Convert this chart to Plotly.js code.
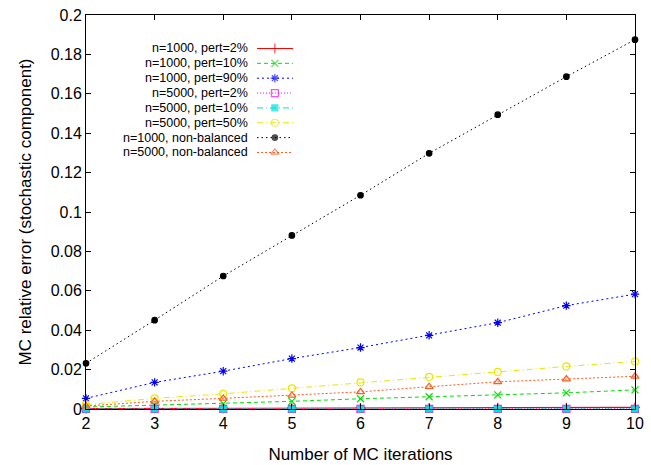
<!DOCTYPE html>
<html>
<head>
<meta charset="utf-8">
<script src="https://cdn.plot.ly/plotly-3.0.1.min.js"></script>
<style>html,body{margin:0;padding:0;background:#fff;}#chart{width:651px;height:465px;}</style>
</head>
<body>
<div id="chart"></div>
<script>
// ---- data ----
var iterations = [2, 3, 4, 5, 6, 7, 8, 9, 10];
var seriesNames = [
  "n=1000, pert=2%",
  "n=1000, pert=10%",
  "n=1000, pert=90%",
  "n=5000, pert=2%",
  "n=5000, pert=10%",
  "n=5000, pert=50%",
  "n=1000, non-balanced",
  "n=5000, non-balanced"
];
var n1000_pert2   = [0.0002, 0.0003, 0.0003, 0.0004, 0.0005, 0.0006, 0.0007, 0.0007, 0.0008];
var n1000_pert10  = [0.0010, 0.0020, 0.0027, 0.0039, 0.0052, 0.0062, 0.0072, 0.0082, 0.0097];
var n1000_pert90  = [0.0054, 0.0135, 0.0192, 0.0256, 0.0312, 0.0374, 0.0438, 0.0525, 0.0583];
var n5000_pert2   = [0.0001, 0.0001, 0.0001, 0.0001, 0.0001, 0.0001, 0.0001, 0.0001, 0.0001];
var n5000_pert10  = [0.0000, 0.0000, 0.0000, 0.0000, 0.0000, 0.0000, 0.0000, 0.0000, 0.0000];
var n5000_pert50  = [0.0022, 0.0054, 0.0077, 0.0105, 0.0135, 0.0163, 0.0188, 0.0216, 0.0241];
var n1000_nonbal  = [0.0232, 0.0451, 0.0675, 0.0881, 0.1085, 0.1298, 0.1494, 0.1687, 0.1875];
var n5000_nonbal  = [0.0015, 0.0039, 0.0054, 0.0069, 0.0087, 0.0113, 0.0138, 0.0152, 0.0166];
var xTitle = "Number of MC iterations";
var yTitle = "MC relative error (stochastic component)";

// ---- styles ----
var allSeries = [n1000_pert2, n1000_pert10, n1000_pert90, n5000_pert2, n5000_pert10, n5000_pert50, n1000_nonbal, n5000_nonbal];
var styles = [
  {color: "#ff0000", dash: "solid",           symbol: "cross-thin-open",  size: 7, lw: 1.2},
  {color: "#00e000", dash: "4px,3px",         symbol: "x-thin-open",      size: 7, lw: 1},
  {color: "#0000ff", dash: "2px,3px",         symbol: "asterisk-open",    size: 7, lw: 1},
  {color: "#ff00ff", dash: "1px,2px",         symbol: "square-open",      size: 7, lw: 1},
  {color: "#00e0e0", dash: "6px,3px,1px,3px", symbol: "square",           size: 6, lw: 1},
  {color: "#e8e800", dash: "6px,3px,1px,3px", symbol: "circle-open",      size: 7, lw: 1},
  {color: "#000000", dash: "1.5px,3px",       symbol: "circle",           size: 5.5, lw: 1},
  {color: "#ff5a1f", dash: "2px,2px",         symbol: "triangle-up-open", size: 7, lw: 1}
];

var traces = [];
allSeries.forEach(function (vals, i) {
  var s = styles[i];
  traces.push({
    x: iterations, y: vals, type: "scatter", mode: "lines+markers",
    name: seriesNames[i], showlegend: false, cliponaxis: false,
    line: {color: s.color, width: s.lw, dash: s.dash},
    marker: {color: s.color, symbol: s.symbol, size: s.size, line: {color: s.color, width: 1.2}}
  });
});

// ---- custom legend (text left, sample right) in overlay axes ----
var legTop = 0.915, legStep = 0.0377;
var annotations = [];
seriesNames.forEach(function (nm, i) {
  var s = styles[i];
  var yr = legTop - i * legStep;
  traces.push({
    x: [0.3115, 0.344, 0.377], y: [yr, yr, yr], xaxis: "x2", yaxis: "y2",
    type: "scatter", mode: "lines+markers", showlegend: false, hoverinfo: "skip",
    line: {color: s.color, width: s.lw, dash: s.dash},
    marker: {color: s.color, symbol: s.symbol, size: [0, s.size, 0], line: {color: s.color, width: 1.2}}
  });
  annotations.push({
    xref: "x2", yref: "y2", x: 0.297, y: yr, text: nm, showarrow: false,
    xanchor: "right", yanchor: "middle", align: "right", borderpad: 0,
    font: {family: "Liberation Sans, Arial, sans-serif", size: 12.5, color: "#000"}
  });
});

var axisFont = {family: "Liberation Sans, Arial, sans-serif", size: 16, color: "#000"};
var layout = {
  width: 651, height: 465,
  margin: {l: 86, r: 16, t: 14.5, b: 56, pad: 0},
  paper_bgcolor: "#fff", plot_bgcolor: "#fff",
  font: axisFont,
  showlegend: false,
  xaxis: {
    range: [2, 10], dtick: 1, tick0: 2, ticks: "inside", ticklen: 5, tickcolor: "#000",
    showline: true, linecolor: "#000", linewidth: 1, mirror: "ticks",
    showgrid: false, zeroline: false, tickfont: axisFont,
    title: {text: xTitle, font: {family: "Liberation Sans, Arial, sans-serif", size: 17}, standoff: 16}
  },
  yaxis: {
    range: [0, 0.2], dtick: 0.02, tick0: 0, ticks: "inside", ticklen: 5, tickcolor: "#000",
    showline: true, linecolor: "#000", linewidth: 1, mirror: "ticks",
    showgrid: false, zeroline: false, tickfont: axisFont,
    title: {text: yTitle, font: {family: "Liberation Sans, Arial, sans-serif", size: 17}, standoff: 14}
  },
  xaxis2: {overlaying: "x", anchor: "y2", range: [0, 1], visible: false, fixedrange: true},
  yaxis2: {overlaying: "y", anchor: "x2", range: [0, 1], visible: false, fixedrange: true},
  annotations: annotations
};

Plotly.newPlot("chart", traces, layout, {displayModeBar: false, staticPlot: true});
</script>
</body>
</html>
